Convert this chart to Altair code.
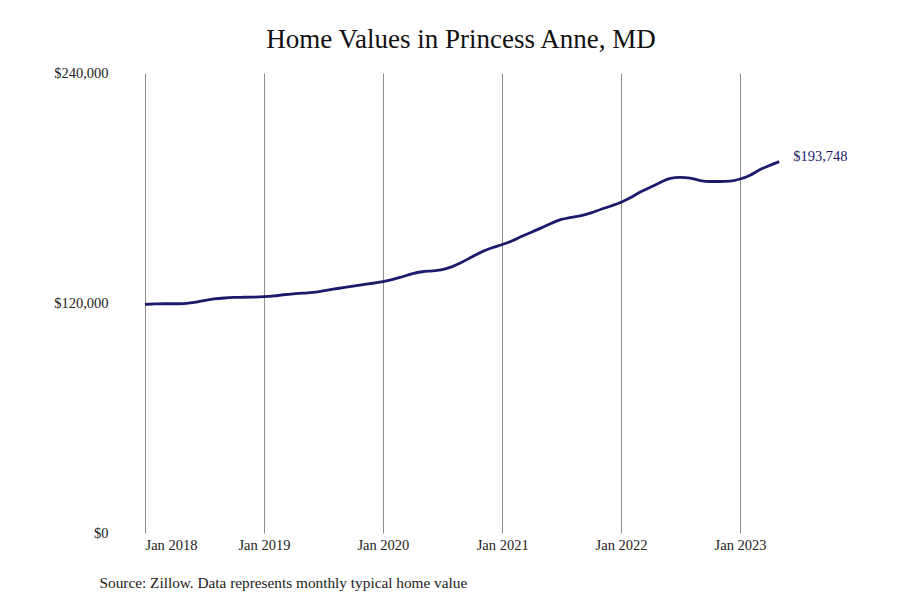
import altair as alt
import pandas as pd

months = pd.date_range("2018-01-01", "2023-05-01", freq="MS").strftime("%Y-%m-%d").tolist()
values = [
    119300, 119500, 119600, 119600, 119700, 120300, 121300, 122100, 122600, 122900, 123000, 123100,
    123300, 123700, 124300, 124800, 125100, 125500, 126300, 127200, 128000, 128800, 129600, 130300,
    131100, 132300, 133700, 135300, 136300, 136800, 137400, 139000, 141400, 144100, 146800, 148800,
    150500, 152500, 154700, 156900, 159200, 161600, 163600, 164700, 165600, 167000, 168900, 170600,
    172600, 175200, 177900, 180400, 182900, 185000, 185500, 185200, 183900, 183400, 183400, 183600,
    184700, 186700, 189400, 191700, 193748,
]
y_ticks = [0, 120000, 240000]
x_ticks = ["2018-01-01", "2019-01-01", "2020-01-01", "2021-01-01", "2022-01-01", "2023-01-01"]

df = pd.DataFrame({"date": months, "value": values})
last = df.tail(1).copy()
last["label"] = "$193,748"

serif = "Liberation Serif"
navy = "#1c1a6b"

x_enc = alt.X(
    "date:T",
    scale=alt.Scale(domain=["2018-01-01", "2024-01-01"]),
    axis=alt.Axis(
        values=[pd.Timestamp(t).value // 10**6 for t in x_ticks],
        format="%b %Y",
        grid=True,
        gridColor="#8f8f8f",
        gridWidth=1,
        domain=False,
        ticks=False,
        labelPadding=5,
        labelFont=serif,
        labelFontSize=14.5,
        labelColor="#222222",
        title="Source: Zillow. Data represents monthly typical home value",
        titleFont=serif,
        titleFontSize=15.3,
        titleFontWeight="normal",
        titleColor="#222222",
        titleX=-46,
        titleY=49,
        titleAlign="left",
        titleBaseline="middle",
    ),
)
y_enc = alt.Y(
    "value:Q",
    scale=alt.Scale(domain=[0, 240000]),
    axis=alt.Axis(
        values=y_ticks,
        format="$,.0f",
        grid=False,
        domain=False,
        ticks=False,
        labelPadding=37,
        labelFont=serif,
        labelFontSize=14.5,
        labelColor="#222222",
        title=None,
    ),
)

line = alt.Chart(df).mark_line(color=navy, strokeWidth=2.8, interpolate="monotone").encode(
    x=x_enc, y=y_enc
)
label = alt.Chart(last).mark_text(
    align="left", baseline="middle", dx=14, dy=-5, font=serif, fontSize=14.5, color=navy
).encode(x="date:T", y="value:Q", text="label:N")

chart = (
    alt.layer(line, label)
    .properties(
        width=714,
        height=460,
        title=alt.TitleParams(
            "Home Values in Princess Anne, MD",
            font=serif,
            fontSize=27,
            fontWeight="normal",
            color="#111111",
            dx=-41,
            offset=11,
        ),
        view=alt.ViewBackground(strokeWidth=0, strokeOpacity=0),
        autosize=alt.AutoSizeParams(type="none"),
        padding={"left": 137, "top": 65, "right": 20, "bottom": 60},
    )
    .configure_view(strokeWidth=0, strokeOpacity=0)
    .configure(background="white")
)

chart.save("out.html", embed_options={"renderer": "svg", "actions": False})
